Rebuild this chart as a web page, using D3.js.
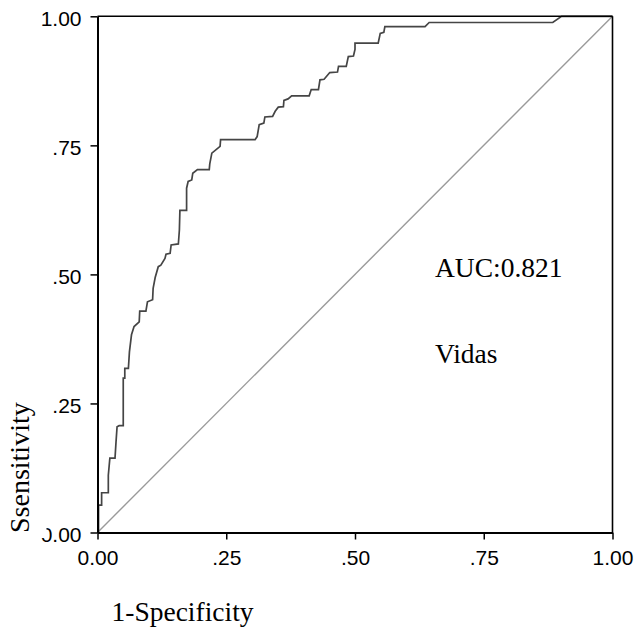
<!DOCTYPE html>
<html>
<head>
<meta charset="utf-8">
<script src="https://cdn.jsdelivr.net/npm/d3@7"></script>
<style>
  html, body { margin: 0; padding: 0; background: #fff; }
  svg { display: block; }
</style>
</head>
<body>
<svg id="chart" width="638" height="632"></svg>
<script>
// ROC curve vertices (1-Specificity, Sensitivity)
const fpr = [0, 0.002, 0.002, 0.008, 0.008, 0.021, 0.021, 0.024, 0.034, 0.036, 0.038, 0.042, 0.050, 0.050, 0.053, 0.053, 0.060, 0.062,
  0.066, 0.071, 0.081, 0.082, 0.094, 0.097, 0.107, 0.108, 0.112, 0.118, 0.123, 0.131, 0.133, 0.141, 0.143, 0.157, 0.159, 0.160,
  0.173, 0.173, 0.176, 0.183, 0.185, 0.194, 0.217, 0.218, 0.222, 0.238, 0.239, 0.306,
  0.310, 0.314, 0.323, 0.325, 0.340, 0.345, 0.351, 0.361, 0.362, 0.370, 0.377, 0.411, 0.415, 0.429, 0.432, 0.440, 0.451, 0.466,
  0.468, 0.483, 0.487, 0.497, 0.500, 0.500, 0.545, 0.549, 0.556, 0.558, 0.636, 0.644, 0.884, 0.901, 1.0];
const tpr = [0, 0, 0.053, 0.053, 0.077, 0.077, 0.111, 0.144, 0.144, 0.176, 0.205, 0.207, 0.207, 0.299, 0.299, 0.318, 0.318, 0.350,
  0.383, 0.399, 0.408, 0.429, 0.429, 0.447, 0.451, 0.473, 0.494, 0.515, 0.518, 0.531, 0.539, 0.541, 0.557, 0.559, 0.586, 0.624,
  0.624, 0.667, 0.680, 0.683, 0.696, 0.703, 0.703, 0.714, 0.735, 0.748, 0.761, 0.761,
  0.767, 0.790, 0.793, 0.805, 0.806, 0.816, 0.824, 0.825, 0.837, 0.840, 0.846, 0.846, 0.858, 0.858, 0.877, 0.878, 0.891, 0.892,
  0.903, 0.903, 0.922, 0.923, 0.936, 0.948, 0.948, 0.967, 0.969, 0.980, 0.980, 0.988, 0.988, 1.0, 1.0];
const refLine = [0, 1];
const tickValues = [0, 0.25, 0.5, 0.75, 1];
const xTickLabels = ["0.00", ".25", ".50", ".75", "1.00"];
const yTickLabels = ["0.00", ".25", ".50", ".75", "1.00"];
const aucLabel = "AUC:0.821";
const testLabel = "Vidas";
const xTitle = "1-Specificity";
const yTitle = "Ssensitivity";

(function () {
const svg = d3.select("#chart");
const pLeft = 97.5, pRight = 612.5, pTop = 16.3, pBottom = 532.5;
const x = d3.scaleLinear().domain([0, 1]).range([pLeft, pRight]);
const y = d3.scaleLinear().domain([0, 1]).range([pBottom, pTop]);

const sans = "'Liberation Sans', Arial, Helvetica, sans-serif";
const serif = "'Liberation Serif', 'Times New Roman', Times, serif";

// reference diagonal
svg.append("line")
  .attr("x1", x(refLine[0])).attr("y1", y(refLine[0]))
  .attr("x2", x(refLine[1])).attr("y2", y(refLine[1]))
  .attr("stroke", "#9a9a9a").attr("stroke-width", 1.4);

// ROC curve
const pts = fpr.map((f, i) => [f, tpr[i]]);
svg.append("path")
  .datum(pts)
  .attr("fill", "none")
  .attr("stroke", "#454545")
  .attr("stroke-width", 1.7)
  .attr("stroke-linejoin", "miter")
  .attr("d", d3.line().x(d => x(d[0])).y(d => y(d[1])));

// box: top and right
svg.append("line").attr("x1", pLeft).attr("x2", pRight).attr("y1", pTop).attr("y2", pTop)
  .attr("stroke", "#000").attr("stroke-width", 1.6);
svg.append("line").attr("x1", pRight).attr("x2", pRight).attr("y1", pTop).attr("y2", pBottom)
  .attr("stroke", "#000").attr("stroke-width", 1.6);

// axes
const xAxis = d3.axisBottom(x).tickValues(tickValues)
  .tickFormat((d, i) => xTickLabels[i]).tickSize(7).tickPadding(11).tickSizeOuter(0);
const gx = svg.append("g").attr("transform", `translate(0,${pBottom})`).call(xAxis);
gx.select(".domain").attr("stroke", "#000").attr("stroke-width", 2);
gx.selectAll(".tick line").attr("stroke", "#000").attr("stroke-width", 1.5);
gx.selectAll(".tick text").attr("font-family", sans).attr("font-size", 21).attr("fill", "#000");

const yAxis = d3.axisLeft(y).tickValues(tickValues)
  .tickFormat((d, i) => yTickLabels[i]).tickSize(7).tickPadding(9).tickSizeOuter(0);
const gy = svg.append("g").attr("transform", `translate(${pLeft},0)`).call(yAxis);
gy.select(".domain").attr("stroke", "#000").attr("stroke-width", 2);
gy.selectAll(".tick line").attr("stroke", "#000").attr("stroke-width", 1.5);
gy.selectAll(".tick text").attr("font-family", sans).attr("font-size", 21).attr("fill", "#000")
  .attr("dy", "0.45em");

// y title with white background (covers part of the 0.00 label)
svg.append("rect").attr("x", 0).attr("y", 398).attr("width", 46.5).attr("height", 140).attr("fill", "#fff");
svg.append("text")
  .attr("transform", `translate(28.5,533) rotate(-90)`)
  .attr("font-family", serif).attr("font-size", 28).attr("fill", "#000")
  .text(yTitle);

// x title
svg.append("text")
  .attr("x", 111.5).attr("y", 621)
  .attr("font-family", serif).attr("font-size", 27.5).attr("fill", "#000")
  .text(xTitle);

// annotations
svg.append("text").attr("x", 435).attr("y", 276.7)
  .attr("font-family", serif).attr("font-size", 27.5).attr("fill", "#000")
  .text(aucLabel);
svg.append("text").attr("x", 435).attr("y", 363.3)
  .attr("font-family", serif).attr("font-size", 27.5).attr("fill", "#000")
  .text(testLabel);
})();
</script>
</body>
</html>
